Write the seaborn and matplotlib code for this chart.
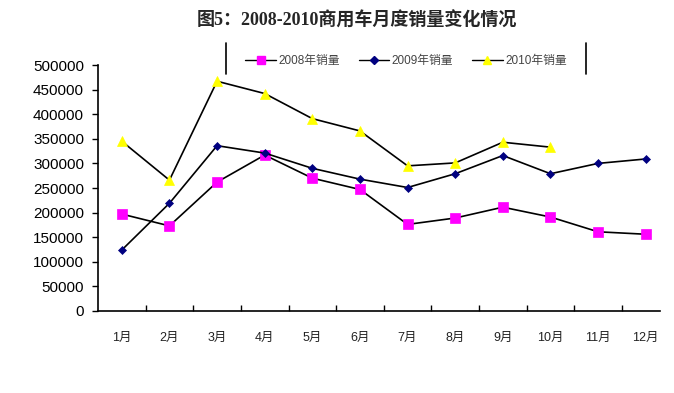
import matplotlib
matplotlib.use("Agg")
import matplotlib.pyplot as plt
import seaborn as sns
import numpy as np
import pandas as pd
from matplotlib.lines import Line2D

months = ["1月", "2月", "3月", "4月", "5月", "6月", "7月", "8月", "9月", "10月", "11月", "12月"]
sales_2008 = [197000, 173000, 262000, 317000, 270000, 247000, 176000, 189000, 211000, 191000, 161000, 156000]
sales_2009 = [124000, 219000, 336000, 321000, 290000, 268000, 251000, 279000, 316000, 279000, 300000, 309000]
sales_2010 = [345000, 266000, 467000, 442000, 391000, 366000, 295000, 301000, 343000, 333000, np.nan, np.nan]
series_names = ["2008年销量", "2009年销量", "2010年销量"]
yticks = list(range(0, 500001, 50000))

sns.set_style("white")
plt.rcParams['font.family'] = ['Liberation Sans', 'Noto Sans CJK SC', 'DejaVu Sans']

W, H = 674, 393
fig = plt.figure(figsize=(W / 100, H / 100), dpi=100)
ax = fig.add_axes([98 / W, 1 - 311 / H, (660 - 98) / W, (311 - 65) / H])

x = np.arange(len(months))
df = pd.DataFrame({"x": x, "s2008": sales_2008, "s2009": sales_2009, "s2010": sales_2010})

styles = [
    ("s2008", "s", "#FF00FF", 7),
    ("s2009", "D", "#000080", 4.5),
    ("s2010", "^", "#FFFF00", 7),
]
handles = []
for (col, mk, mc, ms), name in zip(styles, series_names):
    sns.lineplot(data=df, x="x", y=col, ax=ax, color="black", linewidth=1.2,
                 marker=mk, markersize=ms, markerfacecolor=mc, markeredgecolor=mc,
                 markeredgewidth=0.5, legend=False)
    handles.append(Line2D([], [], color="black", linewidth=1.0, marker=mk,
                          markersize=ms * 0.8, markerfacecolor=mc, markeredgecolor=mc,
                          label=name))

ax.set_xlabel("")
ax.set_ylabel("")

ax.set_yticks(yticks)
ax.set_yticklabels([str(v) for v in yticks], fontsize=11, color="black")
ax.tick_params(axis="y", direction="out", length=4, width=1, color="black", pad=6, left=True)

ax.set_xticks(x[:-1] + 0.5)
ax.set_xticklabels([])
ax.tick_params(axis="x", which="major", direction="in", length=4, width=1, color="black", bottom=True)
ax.set_xticks(x, minor=True)
ax.set_xticklabels(months, minor=True, fontsize=9, color="#222222")
ax.tick_params(axis="x", which="minor", length=0, pad=15)

ax.set_xlim(-0.5, 11.3)
ax.set_ylim(0, 500000)

for s in ["top", "right"]:
    ax.spines[s].set_visible(False)
for s in ["left", "bottom"]:
    ax.spines[s].set_color("black")
    ax.spines[s].set_linewidth(1.2)

fig.text(357 / W, 1 - 21 / H, "图5：2008-2010商用车月度销量变化情况", ha="center", va="center",
         fontsize=13, fontweight="bold", family=['Liberation Serif', 'Noto Sans CJK SC', 'DejaVu Sans'])

leg = fig.legend(handles=handles, loc="center", bbox_to_anchor=(406 / W, 1 - 61 / H),
                 ncol=3, frameon=False, fontsize=8.5, handlelength=2.6, handletextpad=0.2,
                 columnspacing=1.6, labelcolor="#444444")
fig.add_artist(Line2D([226 / W, 226 / W], [1 - 43 / H, 1 - 74 / H], color="black", linewidth=1.2))
fig.add_artist(Line2D([586 / W, 586 / W], [1 - 43 / H, 1 - 74 / H], color="black", linewidth=1.2))

fig.savefig("out.png", dpi=100, facecolor="white")
